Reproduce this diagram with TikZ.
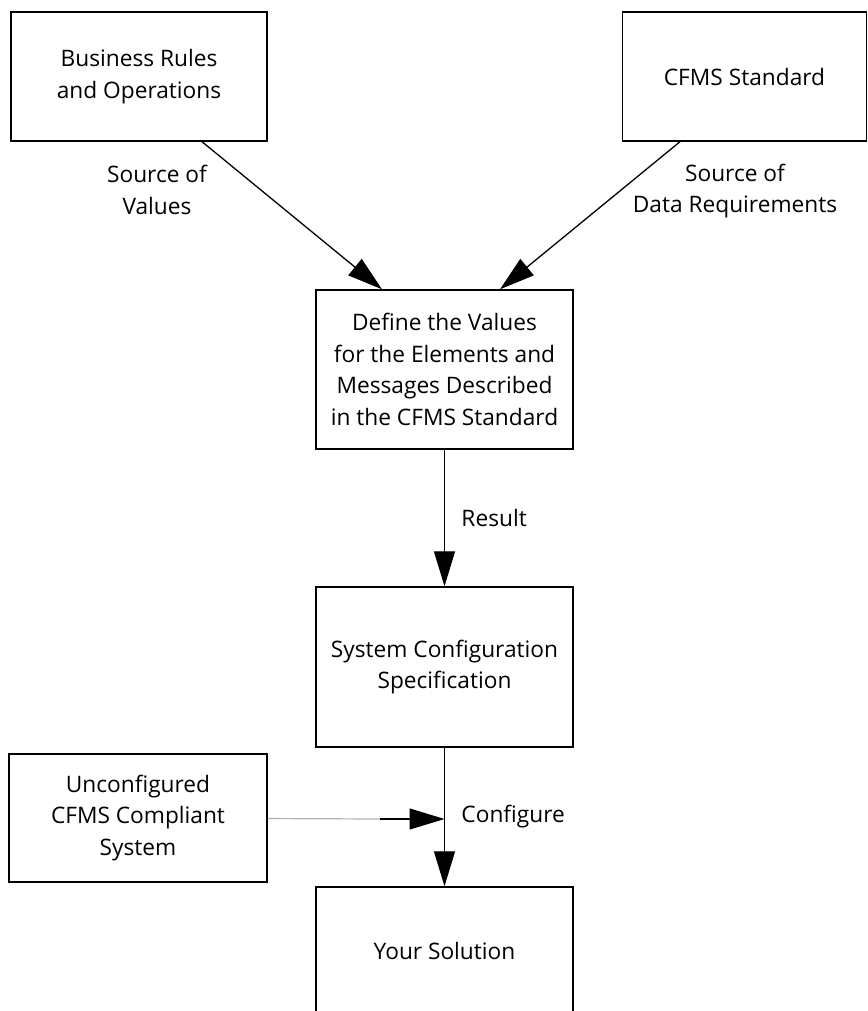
\documentclass[tikz,border=0pt]{standalone}
\usepackage{fontspec}
\setmainfont{Open Sans}
\usetikzlibrary{shapes,arrows.meta,calc}
\tikzstyle{line} = [draw, line width=1.3pt, -{Triangle[length=35pt, width=21pt]}]
\tikzstyle{block} = [draw, rectangle, line width=1.4pt, text centered, align=center, inner sep=0pt]
\tikzstyle{note} = [align=center]

\begin{document}
\begin{tikzpicture}[x=1pt, y=1pt, font=\fontsize{22.7}{31.5}\selectfont]
        \useasboundingbox (0,0) rectangle (867,-1011);
        \node[block, minimum width=256pt, minimum height=129pt] (rules) at (139,-76.5) {Business Rules\\and Operations};
        \node[block, minimum width=244pt, minimum height=129pt, right of=rules, node distance=605.5pt] (cfms) {CFMS Standard};
        \node[block, minimum width=257pt, minimum height=159pt] (define) at (444.5,-369.5) {Define the Values\\for the Elements and\\Messages Described\\in the CFMS Standard};
        \node[block, minimum width=257pt, minimum height=160pt, below of=define, node distance=297.5pt] (system) {System Configuration\\Specification};
        \node[block, minimum width=257pt, minimum height=128pt, below of=system, node distance=284pt] (solution) {Your Solution};
        \node[block, minimum width=258pt, minimum height=128pt] (unconf) at (138,-818) {Unconfigured\\CFMS Compliant\\System};
        \node[note] (valsrc) at (157,-190) {Source of\\Values};
        \node[note] (datasrc) at (735,-191) {Source of\\Data Requirements};
        \coordinate (fade) at (380,-819);
        \coordinate (join) at (system.south |- fade);
        \path[line] ($(rules.south)+(63,0)$) -- ($(define.north)+(-62.5,0)$);
        \path[line] ($(cfms.south)+(-64.5,0)$) -- ($(define.north)+(55.5,0)$);
        \path[line] (define) -- node[right=13pt] {Result} (system);
        \path[line] (system) -- node[right=13pt] {Configure} (solution);
        \draw[gray!60, line width=1.2pt] (unconf) -- (fade);
        \path[line] (fade) -- (join);
    \end{tikzpicture}
\end{document}
